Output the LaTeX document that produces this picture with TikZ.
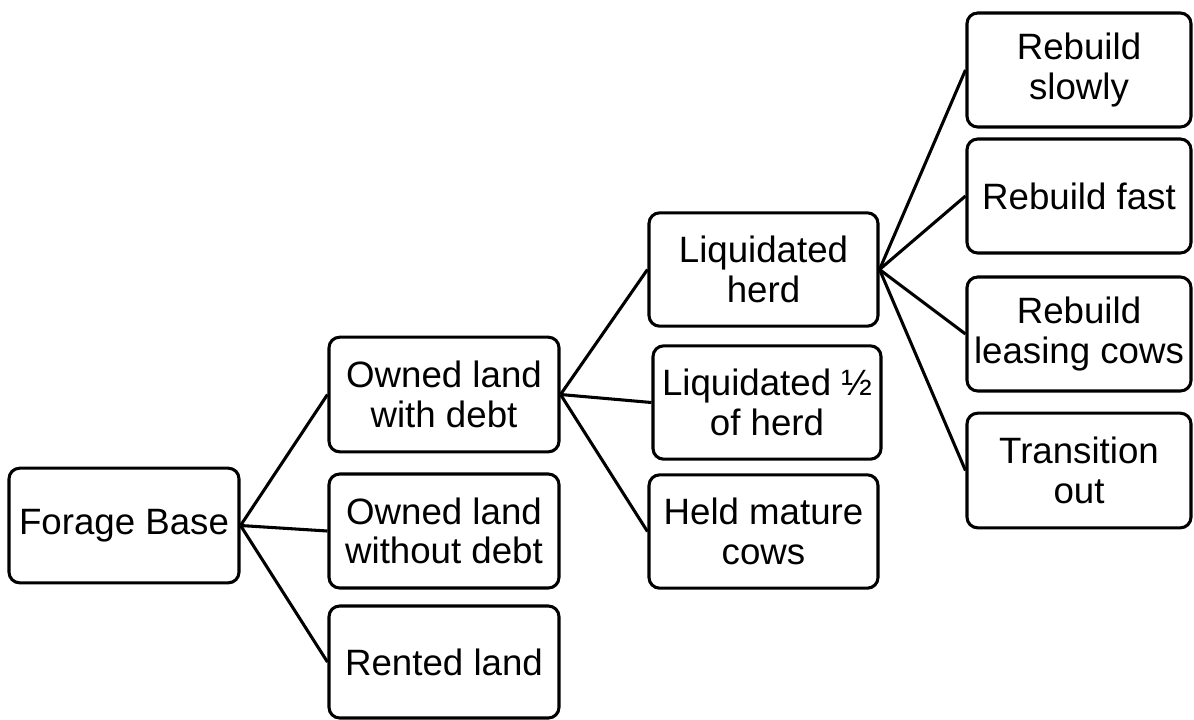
\documentclass[tikz,border=0pt]{standalone}
\usepackage{fontspec}
\setmainfont{Liberation Sans}
\begin{document}
\begin{tikzpicture}[x=0.75pt,y=-0.75pt,
  box/.style={draw=black, line width=2.3pt, rounded corners=8pt, align=center,
    inner sep=0pt, font=\fontsize{27.5}{29.5}\selectfont},
  link/.style={draw=black, line width=2.3pt}]
\useasboundingbox (0,0) rectangle (1194,719);
\node[box, minimum width=172.5pt, minimum height=86pt] (fb) at (124,525.5) {Forage Base};
\node[box, minimum width=172.5pt, minimum height=86pt] (od) at (444,394.5) {Owned land\\with debt};
\node[box, minimum width=172.5pt, minimum height=85.5pt] (ond) at (444,531) {Owned land\\without debt};
\node[box, minimum width=172.5pt, minimum height=84pt] (rl) at (444,662) {Rented land};
\node[box, minimum width=171.75pt, minimum height=85pt] (lh) at (763.5,269.5) {Liquidated\\herd};
\node[box, minimum width=171pt, minimum height=85pt] (lhalf) at (767,402.5) {Liquidated ½\\of herd};
\node[box, minimum width=171.75pt, minimum height=85pt] (hm) at (763.5,531.5) {Held mature\\cows};
\node[box, minimum width=168pt, minimum height=85.5pt] (rs) at (1079,70) {Rebuild\\slowly};
\node[box, minimum width=168pt, minimum height=85.5pt] (rf) at (1079,196) {Rebuild fast};
\node[box, minimum width=168pt, minimum height=85.5pt] (rlc) at (1079,334) {Rebuild\\leasing cows};
\node[box, minimum width=168pt, minimum height=86pt] (to) at (1079,470.5) {Transition\\out};
\draw[link] (fb.east) -- (od.west);
\draw[link] (fb.east) -- (ond.west);
\draw[link] (fb.east) -- (rl.west);
\draw[link] (od.east) -- (lh.west);
\draw[link] (od.east) -- (lhalf.west);
\draw[link] (od.east) -- (hm.west);
\draw[link] (lh.east) -- (rs.west);
\draw[link] (lh.east) -- (rf.west);
\draw[link] (lh.east) -- (rlc.west);
\draw[link] (lh.east) -- (to.west);
\end{tikzpicture}
\end{document}
